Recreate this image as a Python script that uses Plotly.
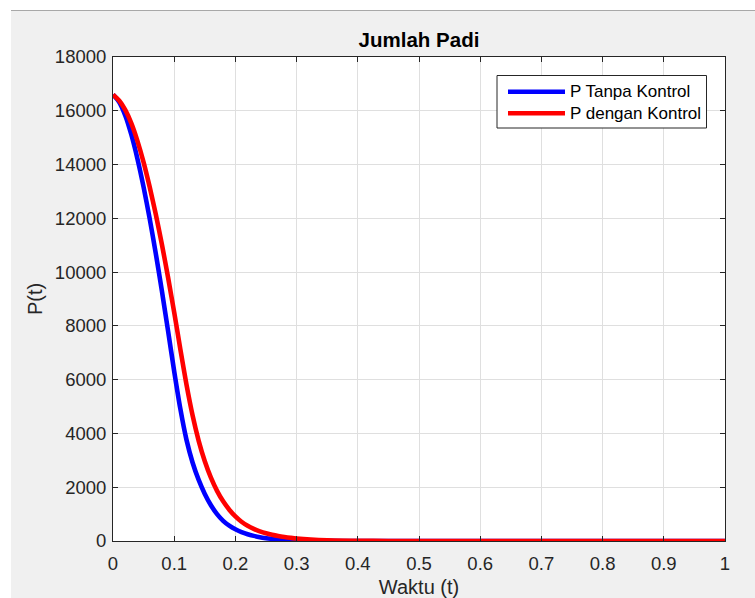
import plotly.graph_objects as go

# ---- data ----
t = [0.00, 0.01, 0.02, 0.03, 0.04, 0.05, 0.06, 0.07, 0.08, 0.09,
     0.10, 0.11, 0.12, 0.13, 0.14, 0.15, 0.16, 0.17, 0.18, 0.19,
     0.20, 0.21, 0.22, 0.23, 0.24, 0.25, 0.26, 0.27, 0.28, 0.29,
     0.30, 0.35, 0.40, 0.45, 0.50, 0.60, 0.70, 0.80, 0.90, 1.00]

p_tanpa = [16600, 16330, 15830, 15110, 14210, 13160, 11980, 10680, 9280, 7810,
           6310, 4920, 3770, 2920, 2270, 1750, 1330, 1000, 750, 570,
           435, 330, 250, 190, 140, 105, 78, 56, 38, 28,
           20, 5, 1, 0, 0, 0, 0, 0, 0, 0]

p_dengan = [16600, 16380, 16030, 15530, 14870, 14080, 13160, 12140, 11020, 9800,
            8500, 7140, 5825, 4675, 3725, 2965, 2355, 1865, 1475, 1165,
            915, 715, 565, 450, 360, 288, 230, 184, 148, 118,
            92, 25, 7, 2, 0, 0, 0, 0, 0, 0]

series_names = ["P Tanpa Kontrol", "P dengan Kontrol"]
series_colors = ["#0000ff", "#ff0000"]

x_ticks = [0, 0.1, 0.2, 0.3, 0.4, 0.5, 0.6, 0.7, 0.8, 0.9, 1]
x_ticktext = ["0", "0.1", "0.2", "0.3", "0.4", "0.5", "0.6", "0.7", "0.8", "0.9", "1"]
y_ticks = [0, 2000, 4000, 6000, 8000, 10000, 12000, 14000, 16000, 18000]
y_ticktext = ["0", "2000", "4000", "6000", "8000", "10000", "12000", "14000", "16000", "18000"]

title_text = "Jumlah Padi"
x_title = "Waktu (t)"
y_title = "P(t)"

# ---- figure ----
FONT = "Liberation Sans, Arial, sans-serif"
AX = "#262626"
W, H = 755, 598
ML, MR, MT, MB = 113, 30, 57, 57
PW, PH = W - ML - MR, H - MT - MB


def px2x(px):
    return (px - ML) / PW


def py2y(py):
    return (H - MB - py) / PH


fig = go.Figure()
for vals, name, col in zip([p_tanpa, p_dengan], series_names, series_colors):
    fig.add_trace(go.Scatter(
        x=t, y=vals, name=name, mode="lines",
        line=dict(color=col, width=4.6, shape="spline", smoothing=0.6),
        showlegend=False, cliponaxis=False,
    ))

shapes = [
    # white page strips (top and left) + thin grey separator
    dict(type="rect", xref="paper", yref="paper", x0=px2x(-5), x1=px2x(W + 5),
         y0=py2y(10), y1=py2y(-5), fillcolor="white", line_width=0, layer="below"),
    dict(type="rect", xref="paper", yref="paper", x0=px2x(-5), x1=px2x(11),
         y0=py2y(H + 5), y1=py2y(-5), fillcolor="white", line_width=0, layer="below"),
    dict(type="line", xref="paper", yref="paper", x0=px2x(11), x1=px2x(W + 5),
         y0=py2y(10.5), y1=py2y(10.5), line=dict(color="#a8a8a8", width=1), layer="below"),
    # legend box
    dict(type="rect", xref="paper", yref="paper", x0=px2x(497), x1=px2x(706.5),
         y0=py2y(128), y1=py2y(75.5), fillcolor="white",
         line=dict(color=AX, width=1), layer="above"),
]
annotations = []
rows_py = [91.7, 113.3]
for name, col, rpy in zip(series_names, series_colors, rows_py):
    shapes.append(dict(type="line", xref="paper", yref="paper",
                       x0=px2x(508), x1=px2x(565), y0=py2y(rpy), y1=py2y(rpy),
                       line=dict(color=col, width=4.6), layer="above"))
    annotations.append(dict(xref="paper", yref="paper", x=px2x(568), y=py2y(rpy),
                            text=name, showarrow=False, xanchor="left", yanchor="middle",
                            font=dict(family=FONT, size=17, color="#000000")))

axis_common = dict(
    showgrid=True, gridcolor="#dfdfdf", gridwidth=1,
    showline=True, linecolor=AX, linewidth=1, mirror="ticks",
    ticks="inside", ticklen=5, tickcolor=AX, tickwidth=1,
    zeroline=False, automargin=False,
    tickfont=dict(family=FONT, size=18.5, color=AX),
)

fig.update_layout(
    width=W, height=H, autosize=False,
    margin=dict(l=ML, r=MR, t=MT, b=MB, pad=0, autoexpand=False),
    paper_bgcolor="#f0f0f0", plot_bgcolor="white",
    title=dict(text="<b>" + title_text + "</b>", x=px2x(419), xref="paper", xanchor="center",
               y=1 - 39.5 / H, yref="container", yanchor="middle",
               font=dict(family=FONT, size=20.5, color="#000000")),
    xaxis=dict(range=[0, 1], tickvals=x_ticks, ticktext=x_ticktext, ticklabelstandoff=6,
               title=dict(text=x_title, standoff=15, font=dict(family=FONT, size=20, color=AX)),
               **axis_common),
    yaxis=dict(range=[0, 18000], tickvals=y_ticks, ticktext=y_ticktext, ticklabelstandoff=2,
               title=dict(text=y_title, standoff=6, font=dict(family=FONT, size=20, color=AX)),
               **axis_common),
    shapes=shapes, annotations=annotations,
    showlegend=False,
)

fig.write_html("out.html")
